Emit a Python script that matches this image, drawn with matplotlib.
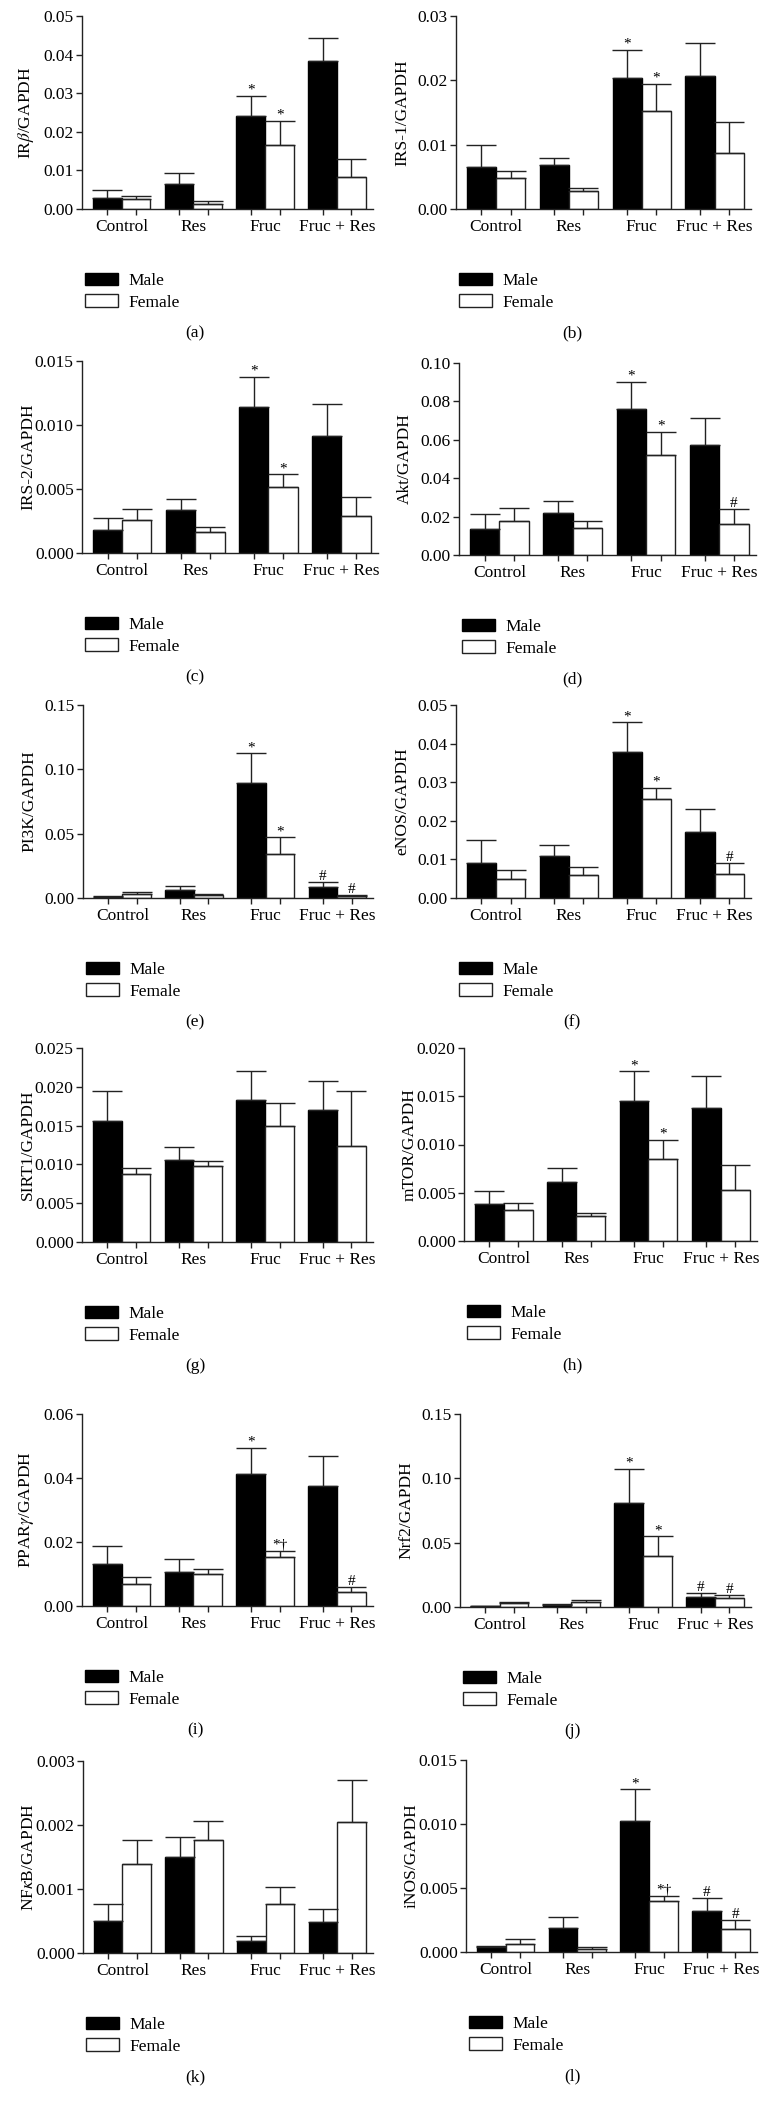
import numpy as np
import matplotlib.pyplot as plt
from matplotlib.patches import Patch

plt.rcParams['font.family'] = ['Liberation Serif', 'DejaVu Serif']
plt.rcParams['mathtext.fontset'] = 'stix'

groups = ['Control', 'Res', 'Fruc', 'Fruc + Res']

# (a) IRbeta
irb_m = [0.0028, 0.0065, 0.0242, 0.0384]
irb_m_err = [0.0020, 0.0027, 0.0052, 0.0058]
irb_f = [0.0026, 0.0014, 0.0165, 0.0084]
irb_f_err = [0.0007, 0.0006, 0.0063, 0.0045]
irb_m_sig = ['', '', '*', '']
irb_f_sig = ['', '', '*', '']

# (b) IRS-1
irs1_m = [0.0065, 0.0068, 0.0204, 0.0207]
irs1_m_err = [0.0034, 0.0012, 0.0043, 0.0051]
irs1_f = [0.0048, 0.0028, 0.0153, 0.0087]
irs1_f_err = [0.0011, 0.0004, 0.0042, 0.0049]
irs1_m_sig = ['', '', '*', '']
irs1_f_sig = ['', '', '*', '']

# (c) IRS-2
irs2_m = [0.0018, 0.00335, 0.01137, 0.00916]
irs2_m_err = [0.0009, 0.00085, 0.0024, 0.0025]
irs2_f = [0.0026, 0.00166, 0.00516, 0.0029]
irs2_f_err = [0.00085, 0.0004, 0.0010, 0.00145]
irs2_m_sig = ['', '', '*', '']
irs2_f_sig = ['', '', '*', '']

# (d) Akt
akt_m = [0.0135, 0.0220, 0.0761, 0.0572]
akt_m_err = [0.0078, 0.0062, 0.0142, 0.0144]
akt_f = [0.0177, 0.0142, 0.0520, 0.0161]
akt_f_err = [0.0070, 0.0033, 0.0123, 0.0080]
akt_m_sig = ['', '', '*', '']
akt_f_sig = ['', '', '*', '#']

# (e) PI3K
pi3k_m = [0.0008, 0.0062, 0.0897, 0.0088]
pi3k_m_err = [0.0005, 0.0031, 0.0228, 0.0034]
pi3k_f = [0.0031, 0.0026, 0.0341, 0.0016]
pi3k_f_err = [0.0016, 0.0005, 0.0130, 0.0010]
pi3k_m_sig = ['', '', '*', '#']
pi3k_f_sig = ['', '', '*', '#']

# (f) eNOS
enos_m = [0.0091, 0.0110, 0.0377, 0.0172]
enos_m_err = [0.0059, 0.0028, 0.0078, 0.0059]
enos_f = [0.0050, 0.0059, 0.0256, 0.0062]
enos_f_err = [0.0022, 0.0022, 0.0029, 0.0028]
enos_m_sig = ['', '', '*', '']
enos_f_sig = ['', '', '*', '#']

# (g) SIRT1
sirt1_m = [0.0156, 0.0106, 0.0183, 0.0170]
sirt1_m_err = [0.0038, 0.0017, 0.0037, 0.0038]
sirt1_f = [0.0087, 0.0098, 0.0150, 0.0124]
sirt1_f_err = [0.0009, 0.0007, 0.0029, 0.0071]
sirt1_m_sig = ['', '', '', '']
sirt1_f_sig = ['', '', '', '']

# (h) mTOR
mtor_m = [0.0038, 0.0061, 0.0145, 0.0138]
mtor_m_err = [0.0014, 0.0015, 0.0031, 0.0033]
mtor_f = [0.0032, 0.0026, 0.0085, 0.0053]
mtor_f_err = [0.0007, 0.00035, 0.0020, 0.0026]
mtor_m_sig = ['', '', '*', '']
mtor_f_sig = ['', '', '*', '']

# (i) PPARgamma
ppar_m = [0.0132, 0.0105, 0.0412, 0.0376]
ppar_m_err = [0.0055, 0.0041, 0.0083, 0.0093]
ppar_f = [0.0068, 0.0099, 0.0152, 0.0043]
ppar_f_err = [0.0023, 0.0018, 0.0021, 0.0016]
ppar_m_sig = ['', '', '*', '']
ppar_f_sig = ['', '', '*†', '#']

# (j) Nrf2
nrf2_m = [0.0008, 0.0016, 0.0812, 0.0075]
nrf2_m_err = [0.0003, 0.0005, 0.0262, 0.0034]
nrf2_f = [0.0029, 0.0036, 0.0400, 0.0070]
nrf2_f_err = [0.0013, 0.0016, 0.0150, 0.0026]
nrf2_m_sig = ['', '', '*', '#']
nrf2_f_sig = ['', '', '*', '#']

# (k) NFkB
nfkb_m = [0.00050, 0.00150, 0.00018, 0.00049]
nfkb_m_err = [0.00027, 0.00032, 0.00008, 0.00019]
nfkb_f = [0.00139, 0.00176, 0.00077, 0.00205]
nfkb_f_err = [0.00038, 0.00031, 0.00026, 0.00065]
nfkb_m_sig = ['', '', '', '']
nfkb_f_sig = ['', '', '', '']

# (l) iNOS
inos_m = [0.00036, 0.0019, 0.0102, 0.00322]
inos_m_err = [0.00013, 0.00086, 0.0025, 0.0010]
inos_f = [0.0006, 0.00023, 0.00395, 0.00182]
inos_f_err = [0.0004, 0.00013, 0.0004, 0.0007]
inos_m_sig = ['', '', '*', '#']
inos_f_sig = ['', '', '*†', '#']

panels = [
    ('a', r'IR$\beta$/GAPDH', irb_m, irb_m_err, irb_f, irb_f_err, irb_m_sig, irb_f_sig, np.arange(0, 0.051, 0.01), '%.2f'),
    ('b', 'IRS-1/GAPDH', irs1_m, irs1_m_err, irs1_f, irs1_f_err, irs1_m_sig, irs1_f_sig, np.arange(0, 0.031, 0.01), '%.2f'),
    ('c', 'IRS-2/GAPDH', irs2_m, irs2_m_err, irs2_f, irs2_f_err, irs2_m_sig, irs2_f_sig, np.arange(0, 0.0151, 0.005), '%.3f'),
    ('d', 'Akt/GAPDH', akt_m, akt_m_err, akt_f, akt_f_err, akt_m_sig, akt_f_sig, np.arange(0, 0.101, 0.02), '%.2f'),
    ('e', 'PI3K/GAPDH', pi3k_m, pi3k_m_err, pi3k_f, pi3k_f_err, pi3k_m_sig, pi3k_f_sig, np.arange(0, 0.151, 0.05), '%.2f'),
    ('f', 'eNOS/GAPDH', enos_m, enos_m_err, enos_f, enos_f_err, enos_m_sig, enos_f_sig, np.arange(0, 0.051, 0.01), '%.2f'),
    ('g', 'SIRT1/GAPDH', sirt1_m, sirt1_m_err, sirt1_f, sirt1_f_err, sirt1_m_sig, sirt1_f_sig, np.arange(0, 0.0251, 0.005), '%.3f'),
    ('h', 'mTOR/GAPDH', mtor_m, mtor_m_err, mtor_f, mtor_f_err, mtor_m_sig, mtor_f_sig, np.arange(0, 0.0201, 0.005), '%.3f'),
    ('i', r'PPAR$\gamma$/GAPDH', ppar_m, ppar_m_err, ppar_f, ppar_f_err, ppar_m_sig, ppar_f_sig, np.arange(0, 0.061, 0.02), '%.2f'),
    ('j', 'Nrf2/GAPDH', nrf2_m, nrf2_m_err, nrf2_f, nrf2_f_err, nrf2_m_sig, nrf2_f_sig, np.arange(0, 0.151, 0.05), '%.2f'),
    ('k', r'NF$\kappa$B/GAPDH', nfkb_m, nfkb_m_err, nfkb_f, nfkb_f_err, nfkb_m_sig, nfkb_f_sig, np.arange(0, 0.00301, 0.001), '%.3f'),
    ('l', 'iNOS/GAPDH', inos_m, inos_m_err, inos_f, inos_f_err, inos_m_sig, inos_f_sig, np.arange(0, 0.0151, 0.005), '%.3f'),
]

# axes boxes in pixels: left, right, top, bottom
boxes = [
    (82, 373, 16, 209), (456, 751, 16, 209),
    (82, 378, 361, 553), (459, 756, 363, 555),
    (83, 373, 705, 898), (456, 751, 705, 898),
    (82, 373, 1048, 1242), (464, 757, 1048, 1241),
    (82, 373, 1414, 1606), (460, 751, 1414, 1607),
    (83, 373, 1761, 1953), (466, 757, 1760, 1952),
]

W, H = 767, 2109
fig = plt.figure(figsize=(W / 100, H / 100), dpi=100)

line_col = '#222222'
fs = 12.5
bw = 0.4
x = np.arange(len(groups))

for (tag, ylab, m, me, f, fe, msig, fsig, yt, fmt), (l, r, t, b) in zip(panels, boxes):
    ax = fig.add_axes([l / W, 1 - b / H, (r - l) / W, (b - t) / H])
    xm = x - bw / 2
    xf = x + bw / 2
    ax.bar(xm, m, width=bw, color='black', edgecolor='black', linewidth=1.0, zorder=2)
    ax.bar(xf, f, width=bw, color='white', edgecolor=line_col, linewidth=1.0, zorder=2)
    ax.errorbar(xm, m, yerr=[np.zeros(4), me], fmt='none', ecolor=line_col,
                elinewidth=1.0, capsize=11, capthick=1.0, zorder=3)
    ax.errorbar(xf, f, yerr=[np.zeros(4), fe], fmt='none', ecolor=line_col,
                elinewidth=1.0, capsize=11, capthick=1.0, zorder=3)
    for xs, vals, errs, sigs in [(xm, m, me, msig), (xf, f, fe, fsig)]:
        for xi, v, e, s in zip(xs, vals, errs, sigs):
            if s:
                ax.annotate(s, (xi, v + e), xytext=(0, 1.5), textcoords='offset points',
                            ha='center', va='baseline', fontsize=11)

    ax.set_xlim(-0.55, 3.5)
    ax.set_ylim(yt[0], yt[-1])
    ax.set_yticks(yt)
    ax.set_yticklabels([fmt % v for v in yt])
    ax.set_xticks(np.concatenate([xm, xf]))
    ax.set_xticklabels([])
    ax.set_xticks(x, minor=True)
    ax.set_xticklabels(groups, minor=True)
    ax.tick_params(axis='x', which='minor', length=0, pad=7, labelsize=fs)
    ax.tick_params(axis='x', which='major', length=4, width=1.0, color=line_col)
    ax.tick_params(axis='y', length=4, width=1.0, color=line_col, pad=2, labelsize=fs)
    for s in ['top', 'right']:
        ax.spines[s].set_visible(False)
    for s in ['left', 'bottom']:
        ax.spines[s].set_color(line_col)
        ax.spines[s].set_linewidth(1.0)
    ax.set_ylabel(ylab, fontsize=fs)
    ax.yaxis.set_label_coords(-46 / (r - l), 0.5)

    handles = [Patch(facecolor='black', edgecolor='black', linewidth=1.0),
               Patch(facecolor='white', edgecolor=line_col, linewidth=1.0)]
    ax.legend(handles, ['Male', 'Female'], loc='upper left',
              bbox_to_anchor=(3 / (r - l), -64 / (b - t)), frameon=False,
              fontsize=fs, handlelength=1.9, handleheight=0.7,
              handletextpad=0.6, labelspacing=0.3, borderpad=0, borderaxespad=0)

    cx = 195 if l < 300 else 572
    fig.text(cx / W, 1 - (b + 124) / H, '(%s)' % tag, ha='center', va='center', fontsize=fs)

fig.savefig('out.png', dpi=100)
